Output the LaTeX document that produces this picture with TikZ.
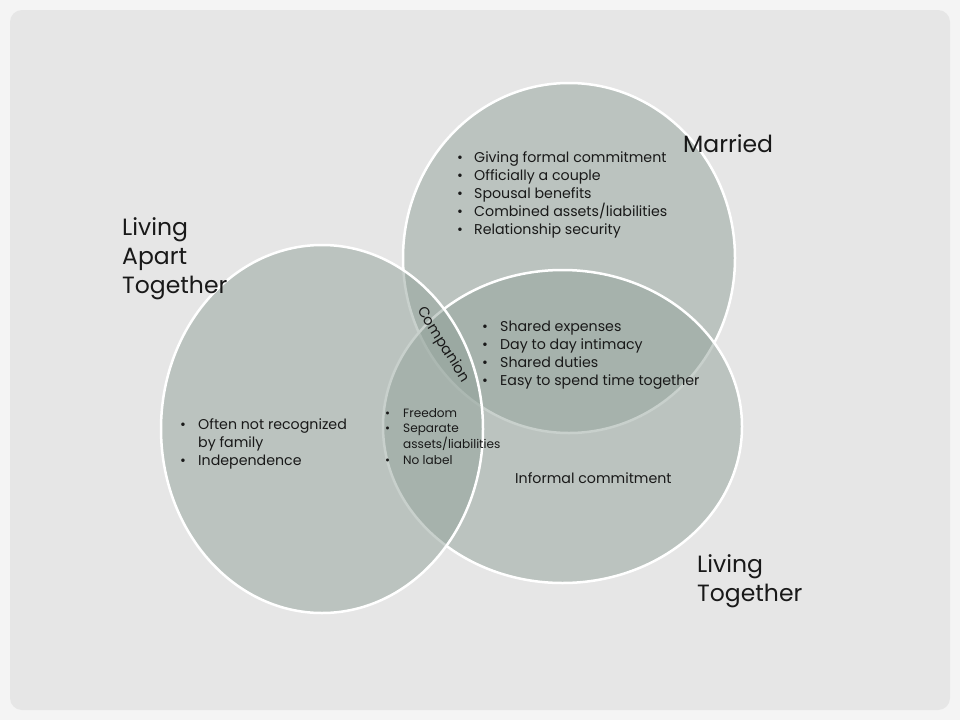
\documentclass[tikz,border=0pt]{standalone}
\usepackage{fontspec}
\setmainfont{Poppins}
\definecolor{outerbg}{RGB}{244,244,244}
\definecolor{cardbg}{RGB}{230,230,230}
\definecolor{vennfill}{RGB}{146,162,154}
\definecolor{txt}{RGB}{25,25,25}
\newlength\bulletw
\newcommand\bitem[1]{\makebox[\bulletw][l]{\textbullet}#1}
\newcommand\bcont[1]{\makebox[\bulletw][l]{}#1}
\begin{document}
\begin{tikzpicture}[x=1pt,y=-1pt,
  venn/.style={fill=vennfill, fill opacity=0.5, draw=white, draw opacity=1, line width=2.5pt},
  title/.style={anchor=base west, inner sep=0pt, font=\fontsize{23.5}{29}\selectfont, text=txt},
  blist/.style={anchor=base west, inner sep=0pt, font=\fontsize{14.2}{18}\selectfont, text=txt},
  slist/.style={anchor=base west, inner sep=0pt, font=\fontsize{12.1}{15.7}\selectfont, text=txt}]
\useasboundingbox (0,0) rectangle (960,720);
\fill[outerbg] (0,0) rectangle (960,720);
\fill[cardbg, rounded corners=12pt] (10,10) rectangle (950,710);
% circles
\path[venn] (569,258) ellipse [x radius=166, y radius=175];
\path[venn] (562.5,426.5) ellipse [x radius=179.5, y radius=156.5];
\path[venn] (322,429) ellipse [x radius=161, y radius=184];
% titles
\node[title] (married) at (683,152) {Married};
\node[title] (lat) at (122,235) {\begin{tabular}[t]{@{}l@{}}Living\\Apart\\Together\end{tabular}};
\node[title] (lt) at (697,572) {\begin{tabular}[t]{@{}l@{}}Living\\Together\end{tabular}};
% lists
\node[blist] (mlist) at (457,162) {\setlength\bulletw{17pt}\begin{tabular}[t]{@{}l@{}}
\bitem{Giving formal commitment}\\
\bitem{Officially a couple}\\
\bitem{Spousal benefits}\\
\bitem{Combined assets/liabilities}\\
\bitem{Relationship security}\end{tabular}};
\node[blist] (slist) at (482,331) {\setlength\bulletw{18pt}\begin{tabular}[t]{@{}l@{}}
\bitem{Shared expenses}\\
\bitem{Day to day intimacy}\\
\bitem{Shared duties}\\
\bitem{Easy to spend time together}\end{tabular}};
\node[blist] (latlist) at (180,429) {\setlength\bulletw{18pt}\begin{tabular}[t]{@{}l@{}}
\bitem{Often not recognized}\\
\bcont{by family}\\
\bitem{Independence}\end{tabular}};
\node[slist] (clist) at (385,417) {\setlength\bulletw{18pt}\begin{tabular}[t]{@{}l@{}}
\bitem{Freedom}\\
\bitem{Separate}\\
\bcont{assets/liabilities}\\
\bitem{No label}\end{tabular}};
\node[blist] (informal) at (515,483) {Informal commitment};
\node[inner sep=0pt, font=\fontsize{14.5}{18}\selectfont, text=txt, rotate=-58] (companion) at (443,345) {Companion};
\end{tikzpicture}
\end{document}
